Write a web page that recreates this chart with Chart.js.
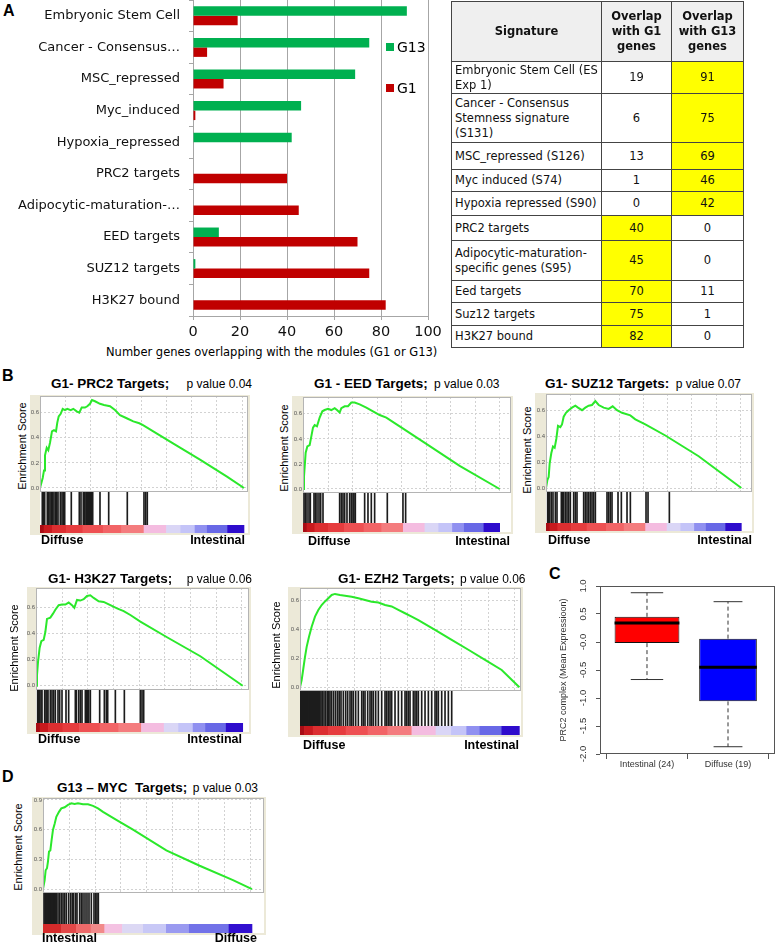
<!DOCTYPE html>
<html>
<head>
<meta charset="utf-8">
<title>Stemness and PRC2 signatures in G1 / G13 modules</title>
<script src="https://cdn.jsdelivr.net/npm/chart.js@4.4.1/dist/chart.umd.min.js"></script>
<style>
  body { margin: 0; background: #fff; }
  #page { position: relative; width: 777px; height: 944px; overflow: hidden; font-family: "Liberation Sans", Arial, sans-serif; color: #000; }
  .hold { position: absolute; }
  .hold canvas { display: block; }
  .txt { position: absolute; white-space: pre; line-height: 1; transform: translateY(-50%); }
  .letter { font-weight: bold; font-size: 16px; }
  .ttl { font-size: 13.5px; }
  .ttl b { font-size: 13.5px; }
  .ttl span { font-size: 12px; }
  .rot { position: absolute; white-space: pre; line-height: 1; font-size: 11px; transform: translate(-50%, -50%) rotate(-90deg); }
  .end { font-weight: bold; font-size: 12.5px; }
  .vera { font-family: "DejaVu Sans", Verdana, sans-serif; }
  .sw { position: absolute; width: 8px; height: 8px; }
  #sigTable { position: absolute; left: 451px; top: 1px; border-collapse: collapse; table-layout: fixed; font-family: "DejaVu Sans", Verdana, sans-serif; font-size: 11.5px; line-height: 15px; color: #111; }
  #sigTable td, #sigTable th { border: 1px solid #444; padding: 0 3px; vertical-align: middle; white-space: pre; overflow: hidden; }
  #sigTable th { background: #efefef; font-weight: bold; white-space: normal; text-align: center; }
  #sigTable td.num { text-align: center; }
  #sigTable td.hi { background: #ffff00; }
</style>
</head>
<body>
<div id="page"></div>
<script>
// ---------- Panel A: overlap of the modules with published signatures ----------
const signatures = ['Embryonic Stem Cell', 'Cancer - Consensus…', 'MSC_repressed', 'Myc_induced', 'Hypoxia_repressed',
  'PRC2 targets', 'Adipocytic-maturation-…', 'EED targets', 'SUZ12 targets', 'H3K27 bound'];
const g13Overlap = [91, 75, 69, 46, 42, 0, 0, 11, 1, 0];
const g1Overlap = [19, 6, 13, 1, 0, 40, 45, 70, 75, 82];
const overlapTicks = [0, 20, 40, 60, 80, 100];

const tableHeaders = ['Signature', 'Overlap with G1 genes', 'Overlap with G13 genes'];
const tableSignatures = ['Embryonic Stem Cell (ES\nExp 1)', 'Cancer - Consensus\nStemness signature\n(S131)', 'MSC_repressed (S126)',
  'Myc induced (S74)', 'Hypoxia repressed (S90)', 'PRC2 targets', 'Adipocytic-maturation-\nspecific genes (S95)',
  'Eed targets', 'Suz12 targets', 'H3K27 bound'];

// ---------- Panel B / D: GSEA running enrichment scores (rank in list, ES) and hit ranks ----------
const prc2Rank = [0, 268, 397, 496, 665, 823, 992, 1190, 1389, 1587, 1716, 1855, 2054, 2252, 2480, 2708, 3046, 3303, 3640, 3898,
  4136, 4464, 4692, 4960, 5158, 5456, 5952, 6349, 6944, 7440, 7936, 8601, 9256, 9851, 10218, 13194, 15872, 18550, 20237];
const prc2ES = [0, 0.08, 0.14, 0.26, 0.32, 0.30, 0.36, 0.45, 0.46, 0.45, 0.52, 0.57, 0.59, 0.63, 0.62, 0.63, 0.62, 0.63, 0.61, 0.60,
  0.64, 0.64, 0.65, 0.67, 0.70, 0.69, 0.67, 0.66, 0.65, 0.62, 0.58, 0.555, 0.53, 0.515, 0.50, 0.355, 0.225, 0.09, 0];
const prc2Hits = [228, 367, 466, 724, 863, 992, 1121, 1260, 1389, 1557, 1657, 1786, 2014, 2182, 2311, 2450, 3105, 3899, 4067,
  4296, 4435, 4563, 4633, 4732, 4831, 4891, 4990, 5089, 5228, 5952, 6815, 8660, 10316, 10485, 10643];

const eedRank = [0, 102, 272, 442, 680, 850, 1020, 1190, 1428, 1700, 1973, 2211, 2551, 2891, 3231, 3469, 3741, 3911, 4251, 4591,
  4932, 5272, 5782, 6462, 7143, 7823, 8503, 9864, 12585, 15986, 20067];
const eedES = [0, 0.10, 0.29, 0.34, 0.35, 0.42, 0.49, 0.51, 0.50, 0.57, 0.62, 0.63, 0.64, 0.63, 0.645, 0.63, 0.61, 0.645, 0.66, 0.66,
  0.69, 0.69, 0.675, 0.65, 0.62, 0.59, 0.57, 0.50, 0.36, 0.185, 0];
const eedHits = [102, 238, 408, 612, 748, 1122, 1258, 1428, 1632, 1802, 2040, 3740, 3910, 4080, 4250, 4488, 4760, 4930, 5100,
  5202, 5338, 6290, 6630, 6970, 7310, 8602, 10200, 10472];

const suz12Rank = [0, 138, 275, 378, 550, 722, 894, 1066, 1238, 1479, 1651, 1823, 2064, 2339, 2683, 3027, 3302, 3715, 4058, 4402,
  4746, 5090, 5434, 5950, 6466, 6878, 7325, 7841, 8700, 9216, 10248, 12312, 15751, 20152];
const suz12ES = [0, 0.06, 0.085, 0.19, 0.27, 0.32, 0.31, 0.38, 0.48, 0.47, 0.49, 0.55, 0.58, 0.60, 0.62, 0.635, 0.62, 0.60, 0.62, 0.635,
  0.64, 0.67, 0.64, 0.62, 0.61, 0.63, 0.60, 0.58, 0.56, 0.53, 0.49, 0.405, 0.245, 0];
const suz12Hits = [172, 275, 378, 550, 722, 963, 1135, 1582, 1686, 1823, 1995, 2167, 2339, 2511, 2855, 3027, 3199, 3887, 4059,
  4231, 4403, 4575, 4747, 4919, 5091, 6295, 6467, 6639, 6811, 7430, 7774, 8359, 8703, 10320, 10526, 12727];

const h3k27Rank = [0, 97, 195, 357, 519, 747, 909, 1071, 1396, 1656, 1883, 2208, 2532, 2857, 3182, 3506, 3734, 3993, 4318, 4643,
  4967, 5292, 5617, 6104, 6591, 7240, 7890, 8539, 9188, 10162, 12760, 16007, 20131];
const h3k27ES = [0, 0.08, 0.18, 0.29, 0.34, 0.35, 0.41, 0.51, 0.52, 0.55, 0.58, 0.615, 0.62, 0.62, 0.635, 0.615, 0.595, 0.655, 0.65, 0.66,
  0.685, 0.69, 0.67, 0.645, 0.64, 0.615, 0.59, 0.57, 0.54, 0.49, 0.37, 0.225, 0];
const h3k27Hits = [162, 260, 357, 487, 584, 844, 974, 1071, 1169, 1396, 1558, 1721, 1883, 2143, 2305, 2532, 2922, 3182, 3831,
  3929, 4156, 4318, 4480, 4805, 4902, 5032, 5130, 5292, 6201, 6656, 6851, 6981, 7728, 8604, 10162, 10325, 10487];

const ezh2Rank = [0, 156, 311, 466, 622, 840, 1088, 1399, 1710, 2021, 2332, 2644, 2955, 3266, 3732, 4199, 4821, 5443, 6065, 6687,
  7309, 7931, 8553, 9175, 9797, 10419, 11041, 12596, 14151, 15706, 17261, 18816, 20464];
const ezh2ES = [0, 0.05, 0.13, 0.21, 0.28, 0.35, 0.42, 0.49, 0.535, 0.57, 0.595, 0.617, 0.64, 0.647, 0.64, 0.635, 0.628, 0.617, 0.605, 0.593,
  0.587, 0.57, 0.56, 0.536, 0.513, 0.49, 0.466, 0.397, 0.328, 0.26, 0.19, 0.12, 0];
const ezh2Hits = [20, 95, 170, 230, 300, 365, 440, 505, 580, 650, 720, 790, 860, 930, 1000, 1070, 1150, 1220, 1290, 1360, 1430,
  1500, 1570, 1640, 1710, 1780, 1850, 1959, 2084, 2239, 2395, 2550, 2674, 2799, 2955, 3141, 3328, 3515, 3670, 3826, 4043,
  4261, 4448, 4665, 4821, 4976, 5194, 5443, 5754, 5909, 6065, 6313, 6531, 6687, 6842, 7060, 7309, 7620, 7931, 8086, 8242,
  8397, 8553, 8864, 9175, 9486, 9797, 9952, 10108, 10263, 10574, 10730, 10885, 11041, 11352, 11663, 11974, 12285, 12596,
  12752, 12907, 13218, 13529, 13840, 14151];

const mycRank = [0, 161, 258, 387, 484, 581, 710, 839, 968, 1129, 1290, 1548, 1774, 2097, 2419, 2742, 3065, 3387, 3871, 4355,
  4839, 5323, 5807, 7097, 8710, 11936, 15162, 18388, 20227];
const mycES = [0, 0.09, 0.19, 0.21, 0.28, 0.38, 0.39, 0.50, 0.60, 0.66, 0.73, 0.78, 0.815, 0.826, 0.85, 0.866, 0.86, 0.866, 0.856, 0.856,
  0.84, 0.815, 0.78, 0.70, 0.60, 0.39, 0.235, 0.09, 0];
const mycHits = [97, 194, 258, 355, 419, 516, 613, 710, 807, 903, 1000, 1097, 1194, 1290, 1452, 1613, 1774, 1936, 2097, 2258,
  2484, 2678, 2839, 2968, 3162, 3291, 3549, 3710, 3871, 4065, 4258, 4452, 4678, 4936, 5097, 5226, 5355];

// ranked-list colour bar (fraction of the list, colour of each band)
const gseaGradEdges = [0, 0.02, 0.06, 0.13, 0.21, 0.31, 0.40, 0.51, 0.62, 0.69, 0.76, 0.82, 0.92, 1];
const gseaGradColors = ['#a80c14', '#c81a1e', '#dc2e30', '#e63c3e', '#ee5052', '#f26466', '#f47c7e', '#f4bce0', '#dad6f6',
  '#c4c4f8', '#9090f0', '#6868e6', '#2e0ccc'];
const mycGradEdges = [0, 0.088, 0.16, 0.23, 0.295, 0.38, 0.48, 0.59, 0.70, 0.89, 1];
const mycGradColors = ['#d42a2a', '#e24848', '#ee6a6a', '#f28a8a', '#f4c2e2', '#dcd8f4', '#c8c8f6', '#9a9af0', '#7272e8', '#3210d0'];
const rankGridStep = 2500;

// ---------- Panel C: PRC2 complex mean expression box plot ----------
const boxGroups = ['Intestinal (24)', 'Diffuse (19)'];
const boxN = [24, 19];
const boxLow = [-0.68, -1.88];
const boxQ1 = [-0.03, -1.07];
const boxMedian = [0.33, -0.46];
const boxQ3 = [0.44, 0.05];
const boxHigh = [0.87, 0.71];
const boxColors = ['#ff0000', '#0000ff'];

const FONT = '"Liberation Sans", Arial, sans-serif';
const VFONT = '"DejaVu Sans", Verdana, sans-serif';
Chart.defaults.font.family = FONT;

const page = document.getElementById('page');

function addText(text, x, y, cls, alignRight) {
  const d = document.createElement('div');
  d.className = 'txt ' + (cls || '');
  d.textContent = text;
  if (alignRight) d.style.right = (777 - x) + 'px'; else d.style.left = x + 'px';
  d.style.top = y + 'px';
  page.appendChild(d);
  return d;
}

function addCanvas(x, y, w, h) {
  const hold = document.createElement('div');
  hold.className = 'hold';
  hold.style.left = x + 'px';
  hold.style.top = y + 'px';
  hold.style.width = w + 'px';
  hold.style.height = h + 'px';
  const c = document.createElement('canvas');
  c.width = w;
  c.height = h;
  hold.appendChild(c);
  page.appendChild(hold);
  return c;
}

// no extra room for half tick labels at the ends of an axis
function noEdgePadding(s) {
  s.paddingTop = 0;
  s.paddingBottom = 0;
  s.paddingLeft = 0;
  s.paddingRight = 0;
}

// panel letters
addText('A', 3, 11, 'letter');
addText('B', 2, 376, 'letter');
addText('C', 549, 574, 'letter');
addText('D', 2, 777, 'letter');

// ---------- Panel A chart ----------
const canvasA = addCanvas(0, 0, 446, 342);
new Chart(canvasA, {
  type: 'bar',
  data: {
    labels: signatures,
    datasets: [
      { label: 'G13', data: g13Overlap, backgroundColor: '#00b050', categoryPercentage: 0.6, barPercentage: 1 },
      { label: 'G1', data: g1Overlap, backgroundColor: '#c00000', categoryPercentage: 0.6, barPercentage: 1 }
    ]
  },
  options: {
    indexAxis: 'y',
    responsive: false,
    animation: false,
    devicePixelRatio: 1,
    layout: { padding: { top: 0, right: 18, bottom: 0, left: 0 } },
    plugins: { legend: { display: false }, tooltip: { enabled: false } },
    scales: {
      x: {
        min: overlapTicks[0],
        max: overlapTicks[overlapTicks.length - 1],
        afterBuildTicks: s => { s.ticks = overlapTicks.map(v => ({ value: v })); },
        ticks: { color: '#111', font: { family: VFONT, size: 14.5 }, padding: 4 },
        grid: { color: '#a6a6a6', tickLength: 4 },
        border: { color: '#a6a6a6' },
        afterFit: s => { s.height = 26; noEdgePadding(s); }
      },
      y: {
        ticks: { color: '#111', font: { family: VFONT, size: 13 }, padding: 9, autoSkip: false },
        grid: { drawOnChartArea: false, tickLength: 4, color: '#a6a6a6', offset: true },
        border: { color: '#a6a6a6' },
        afterFit: s => { s.width = 193; noEdgePadding(s); }
      }
    }
  }
});

// legend and axis title
[['G13', '#00b050', 47], ['G1', '#c00000', 88]].forEach(([name, color, cy]) => {
  const sw = document.createElement('div');
  sw.className = 'sw';
  sw.style.left = '386px';
  sw.style.top = (cy - 4) + 'px';
  sw.style.background = color;
  page.appendChild(sw);
  const t = addText(name, 397, cy, 'vera');
  t.style.fontSize = '14px';
});
const xTitle = addText('Number genes overlapping with the modules (G1 or G13)', 106, 353, 'vera');
xTitle.style.fontSize = '11.5px';

// ---------- Panel A table ----------
(function buildTable() {
  const rowHeights = [60, 32, 49, 27, 22, 24, 25, 40, 22, 23, 22];
  const colWidths = [150, 70, 72];
  const table = document.createElement('table');
  table.id = 'sigTable';
  table.style.width = colWidths.reduce((a, b) => a + b, 0) + 'px';
  const cg = document.createElement('colgroup');
  colWidths.forEach(w => { const c = document.createElement('col'); c.style.width = w + 'px'; cg.appendChild(c); });
  table.appendChild(cg);
  const head = document.createElement('tr');
  head.style.height = rowHeights[0] + 'px';
  tableHeaders.forEach(h => { const th = document.createElement('th'); th.textContent = h; head.appendChild(th); });
  table.appendChild(head);
  tableSignatures.forEach((name, i) => {
    const tr = document.createElement('tr');
    tr.style.height = rowHeights[i + 1] + 'px';
    const td = document.createElement('td');
    td.textContent = name;
    tr.appendChild(td);
    [g1Overlap[i], g13Overlap[i]].forEach((v, k) => {
      const c = document.createElement('td');
      c.className = 'num';
      const other = k === 0 ? g13Overlap[i] : g1Overlap[i];
      if (v > other) c.className += ' hi';
      c.textContent = v;
      tr.appendChild(c);
    });
    table.appendChild(tr);
  });
  page.appendChild(table);
})();

// ---------- GSEA panels ----------
const gseaFrame = {
  id: 'gseaFrame',
  beforeDraw(chart) {
    const { ctx, chartArea: a, scales: { x, y } } = chart;
    ctx.save();
    ctx.fillStyle = '#ece9d8';
    ctx.fillRect(0, 0, chart.width, chart.height);
    ctx.fillStyle = '#ffffff';
    ctx.fillRect(a.left, a.top, a.right - a.left, a.bottom - a.top);
    ctx.strokeStyle = '#d2d2d2';
    ctx.lineWidth = 1;
    ctx.setLineDash([2, 2]);
    for (let v = rankGridStep; v < x.max; v += rankGridStep) {
      const px = Math.round(x.getPixelForValue(v)) + 0.5;
      ctx.beginPath();
      ctx.moveTo(px, y.top);
      ctx.lineTo(px, y.bottom);
      ctx.stroke();
    }
    ctx.restore();
  },
  afterDraw(chart) {
    const { ctx, chartArea: a, scales: { y } } = chart;
    ctx.save();
    ctx.strokeStyle = '#b4b4b4';
    ctx.lineWidth = 1;
    ctx.strokeRect(a.left + 0.5, Math.round(y.top) + 0.5, a.right - a.left - 1, Math.round(y.bottom - y.top));
    ctx.restore();
  }
};

const gseaPanels = [
  { rank: prc2Rank, es: prc2ES, hits: prc2Hits, edges: gseaGradEdges, colors: gseaGradColors,
    frame: [30, 395, 250, 535], plotLeft: 40, plotTop: 396, plotRight: 248, esBottom: 491, hitBottom: 525, gradBottom: 533,
    yMin: -0.024, yMax: 0.732, xMax: 20635,
    title: 'G1- PRC2 Targets;', p: 'p value 0.04', titleX: 51, titleY: 384, gap: 14,
    yLab: [22, 446], ends: ['Diffuse', 'Intestinal'], endL: 41, endR: 245, endY: 540 },
  { rank: eedRank, es: eedES, hits: eedHits, edges: gseaGradEdges, colors: gseaGradColors,
    frame: [292, 396, 513, 534], plotLeft: 303, plotTop: 397, plotRight: 511, esBottom: 492, hitBottom: 523, gradBottom: 532,
    yMin: -0.024, yMax: 0.734, xMax: 21224,
    title: 'G1 - EED Targets;', p: 'p value 0.03', titleX: 314, titleY: 384, gap: 3,
    yLab: [284, 448], ends: ['Diffuse', 'Intestinal'], endL: 308, endR: 510, endY: 541 },
  { rank: suz12Rank, es: suz12ES, hits: suz12Hits, edges: gseaGradEdges, colors: gseaGradColors,
    frame: [535, 393, 754, 533], plotLeft: 546, plotTop: 394, plotRight: 752, esBottom: 491, hitBottom: 523, gradBottom: 531,
    yMin: -0.023, yMax: 0.725, xMax: 21254,
    title: 'G1- SUZ12 Targets:', p: 'p value 0.07', titleX: 545, titleY: 384, gap: 3,
    yLab: [527, 450], ends: ['Diffuse', 'Intestinal'], endL: 548, endR: 752, endY: 540 },
  { rank: h3k27Rank, es: h3k27ES, hits: h3k27Hits, edges: gseaGradEdges, colors: gseaGradColors,
    frame: [27, 587, 251, 734], plotLeft: 36, plotTop: 588, plotRight: 249, esBottom: 689, hitBottom: 723, gradBottom: 732,
    yMin: -0.025, yMax: 0.746, xMax: 20744,
    title: 'G1- H3K27 Targets;', p: 'p value 0.06', titleX: 48, titleY: 579, gap: 11,
    yLab: [14, 648], ends: ['Diffuse', 'Intestinal'], endL: 38, endR: 242, endY: 739 },
  { rank: ezh2Rank, es: ezh2ES, hits: ezh2Hits, edges: gseaGradEdges, colors: gseaGradColors,
    frame: [288, 587, 523, 737], plotLeft: 300, plotTop: 588, plotRight: 521, esBottom: 690, hitBottom: 726, gradBottom: 735,
    yMin: -0.019, yMax: 0.688, xMax: 20616,
    title: 'G1- EZH2 Targets;', p: 'p value 0.06', titleX: 338, titleY: 579, gap: 2,
    yLab: [276, 645], ends: ['Diffuse', 'Intestinal'], endL: 303, endR: 519, endY: 745 },
  { rank: mycRank, es: mycES, hits: mycHits, edges: mycGradEdges, colors: mycGradColors,
    frame: [32, 797, 266, 935], plotLeft: 43, plotTop: 798, plotRight: 264, esBottom: 892, hitBottom: 924, gradBottom: 933,
    yMin: -0.03, yMax: 0.92, xMax: 21390,
    title: 'G13 – MYC  Targets;', p: 'p value 0.03', titleX: 57, titleY: 788, gap: 2,
    yLab: [18, 847], ends: ['Intestinal', 'Diffuse'], endL: 42, endR: 257, endY: 938 }
];

gseaPanels.forEach(g => {
  const [fl, ft, fr, fb] = g.frame;
  const canvas = addCanvas(fl, ft, fr - fl, fb - ft);
  const nGenes = g.rank[g.rank.length - 1];
  new Chart(canvas, {
    data: {
      datasets: [
        { type: 'line', data: g.rank.map((r, i) => ({ x: r, y: g.es[i] })), xAxisID: 'x', yAxisID: 'y',
          borderColor: '#2be82b', borderWidth: 2, pointRadius: 0, tension: 0 },
        { type: 'bar', data: g.hits.map(h => ({ x: h, y: 1 })), xAxisID: 'x', yAxisID: 'yHit',
          backgroundColor: '#1c1c1c', barThickness: 1, grouped: false },
        { type: 'bar', indexAxis: 'y', xAxisID: 'x', yAxisID: 'yGrad',
          data: g.colors.map((c, i) => ({ y: 'rank', x: [g.edges[i] * nGenes, g.edges[i + 1] * nGenes] })),
          backgroundColor: g.colors, barPercentage: 1, categoryPercentage: 1, grouped: false }
      ]
    },
    options: {
      responsive: false,
      animation: false,
      devicePixelRatio: 1,
      layout: { padding: { left: 0, top: g.plotTop - ft, right: fr - g.plotRight, bottom: fb - g.gradBottom } },
      plugins: { legend: { display: false }, tooltip: { enabled: false } },
      scales: {
        x: { type: 'linear', min: 0, max: g.xMax, display: false, offset: false },
        y: {
          type: 'linear', position: 'left', stack: 'gsea', stackWeight: g.esBottom - g.plotTop, weight: 3,
          min: g.yMin, max: g.yMax, offset: false,
          ticks: { stepSize: 0.1, includeBounds: false, color: '#555', font: { size: 6 }, padding: 1, callback: v => v.toFixed(1) },
          grid: { color: '#d2d2d2', drawTicks: false, tickLength: 0 },
          border: { display: false, dash: [2, 2] },
          afterFit: s => { s.width = g.plotLeft - fl; noEdgePadding(s); }
        },
        yHit: { type: 'linear', position: 'left', stack: 'gsea', stackWeight: g.hitBottom - g.esBottom, weight: 2,
          min: 0, max: 1, display: false },
        yGrad: { type: 'category', labels: ['rank'], position: 'left', stack: 'gsea', stackWeight: g.gradBottom - g.hitBottom,
          weight: 1, offset: true, display: false }
      }
    },
    plugins: [gseaFrame]
  });

  const t = document.createElement('div');
  t.className = 'txt ttl';
  t.style.left = g.titleX + 'px';
  t.style.top = g.titleY + 'px';
  const b = document.createElement('b');
  b.textContent = g.title;
  const s = document.createElement('span');
  s.textContent = ' ' + g.p;
  s.style.marginLeft = g.gap + 'px';
  t.append(b, s);
  page.appendChild(t);

  const yl = document.createElement('div');
  yl.className = 'rot';
  yl.textContent = 'Enrichment Score';
  yl.style.left = g.yLab[0] + 'px';
  yl.style.top = g.yLab[1] + 'px';
  page.appendChild(yl);

  addText(g.ends[0], g.endL, g.endY, 'end');
  addText(g.ends[1], g.endR, g.endY, 'end', true);
});

// ---------- Panel C box plot ----------
const boxFrame = {
  id: 'boxFrame',
  afterDraw(chart) {
    const { ctx, chartArea: a, scales: { y } } = chart;
    ctx.save();
    ctx.strokeStyle = '#555';
    ctx.lineWidth = 1;
    ctx.strokeRect(a.left + 0.5, a.top + 0.5, a.right - a.left - 1, a.bottom - a.top - 1);
    ctx.fillStyle = '#333';
    ctx.font = '9.5px ' + FONT;
    ctx.textAlign = 'center';
    ctx.textBaseline = 'middle';
    y.ticks.forEach(t => {
      ctx.save();
      ctx.translate(a.left - 17, y.getPixelForValue(t.value));
      ctx.rotate(-Math.PI / 2);
      ctx.fillText(t.value.toFixed(1), 0, 0);
      ctx.restore();
    });
    ctx.restore();
  }
};

const maxN = Math.max(...boxN);
const boxWidths = boxN.map(n => 0.8 * Math.sqrt(n / maxN));
function segments(fn) {
  const out = [];
  boxGroups.forEach((g, i) => { out.push(...fn(i), { x: i + 1, y: null }); });
  return out;
}

const canvasC = addCanvas(540, 578, 237, 196);
new Chart(canvasC, {
  data: {
    datasets: [
      { type: 'line', data: segments(i => [{ x: i + 1 - boxWidths[i] / 2, y: boxMedian[i] }, { x: i + 1 + boxWidths[i] / 2, y: boxMedian[i] }]),
        borderColor: '#000', borderWidth: 3, pointRadius: 0, spanGaps: false },
      ...boxGroups.map((g, i) => ({
        type: 'bar', data: [{ x: i + 1, y: [boxQ1[i], boxQ3[i]] }], backgroundColor: boxColors[i],
        borderColor: '#111', borderWidth: 1, borderSkipped: false, grouped: false,
        barPercentage: boxWidths[i], categoryPercentage: 1
      })),
      { type: 'line', data: segments(i => [{ x: i + 1, y: boxQ3[i] }, { x: i + 1, y: boxHigh[i] }, { x: i + 1, y: null },
        { x: i + 1, y: boxQ1[i] }, { x: i + 1, y: boxLow[i] }]),
        borderColor: '#333', borderWidth: 1, borderDash: [4, 3], pointRadius: 0, spanGaps: false },
      { type: 'line', data: segments(i => {
          const h = boxWidths[i] / 4;
          return [{ x: i + 1 - h, y: boxHigh[i] }, { x: i + 1 + h, y: boxHigh[i] }, { x: i + 1, y: null },
            { x: i + 1 - h, y: boxLow[i] }, { x: i + 1 + h, y: boxLow[i] }];
        }),
        borderColor: '#333', borderWidth: 1, pointRadius: 0, spanGaps: false }
    ]
  },
  options: {
    responsive: false,
    animation: false,
    devicePixelRatio: 1,
    layout: { padding: { left: 0, top: 8, right: 2, bottom: 0 } },
    plugins: { legend: { display: false }, tooltip: { enabled: false } },
    scales: {
      x: {
        type: 'linear', min: 0.42, max: 2.58, offset: false,
        afterBuildTicks: s => { s.ticks = boxGroups.map((g, i) => ({ value: i + 1 })); },
        ticks: { color: '#333', font: { size: 9 }, padding: 0, callback: (v, i) => boxGroups[i] },
        grid: { drawOnChartArea: false, tickLength: 5, color: '#555' },
        border: { display: false },
        afterFit: s => { s.height = 20; noEdgePadding(s); }
      },
      y: {
        type: 'linear', min: -2.01, max: 0.99, offset: false,
        ticks: { stepSize: 0.5, includeBounds: false, display: false },
        grid: { drawOnChartArea: false, tickLength: 4, color: '#555' },
        border: { display: false },
        title: { display: true, text: 'PRC2 complex (Mean Expressioon)', color: '#333', font: { size: 9 }, padding: { top: 18, bottom: 0 } },
        afterFit: s => { s.width = 60; noEdgePadding(s); }
      }
    }
  },
  plugins: [boxFrame]
});
</script>
</body>
</html>
